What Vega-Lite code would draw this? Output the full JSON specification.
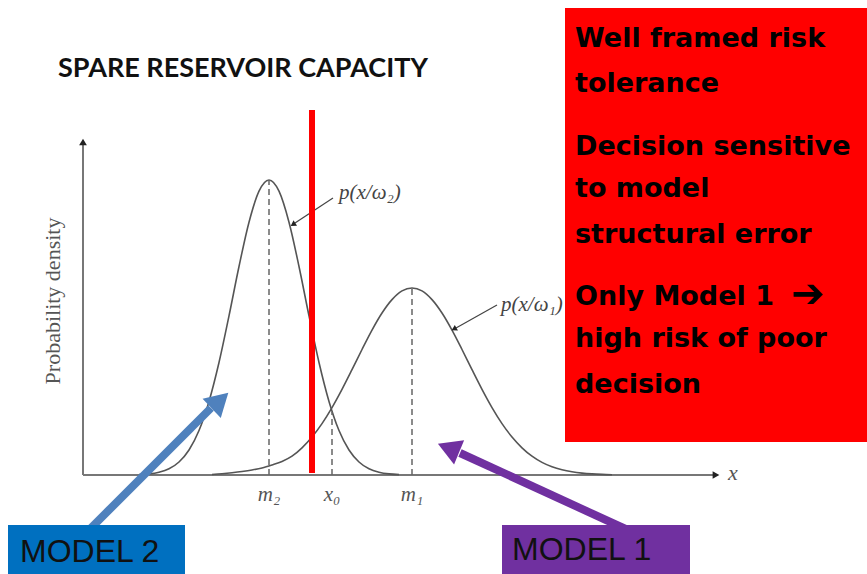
{
  "$schema": "https://vega.github.io/schema/vega-lite/v6.json",
  "width": 867,
  "height": 574,
  "autosize": {"type": "fit", "contains": "padding"},
  "padding": 0,
  "background": "white",
  "config": {"view": {"stroke": null}},
  "datasets": {
    "curves": [
      {"model": "Model 2", "x": 56, "density": 0.4},
      {"model": "Model 2", "x": 66, "density": 1.1},
      {"model": "Model 2", "x": 76, "density": 2.8},
      {"model": "Model 2", "x": 86, "density": 6.2},
      {"model": "Model 2", "x": 96, "density": 13.0},
      {"model": "Model 2", "x": 106, "density": 25.0},
      {"model": "Model 2", "x": 116, "density": 44.5},
      {"model": "Model 2", "x": 126, "density": 73.6},
      {"model": "Model 2", "x": 136, "density": 112.5},
      {"model": "Model 2", "x": 146, "density": 159.1},
      {"model": "Model 2", "x": 156, "density": 208.5},
      {"model": "Model 2", "x": 166, "density": 252.8},
      {"model": "Model 2", "x": 176, "density": 283.8},
      {"model": "Model 2", "x": 186, "density": 295},
      {"model": "Model 2", "x": 196, "density": 283.8},
      {"model": "Model 2", "x": 206, "density": 252.8},
      {"model": "Model 2", "x": 216, "density": 208.5},
      {"model": "Model 2", "x": 226, "density": 159.1},
      {"model": "Model 2", "x": 236, "density": 112.5},
      {"model": "Model 2", "x": 246, "density": 73.6},
      {"model": "Model 2", "x": 256, "density": 44.5},
      {"model": "Model 2", "x": 266, "density": 25.0},
      {"model": "Model 2", "x": 276, "density": 13.0},
      {"model": "Model 2", "x": 286, "density": 6.2},
      {"model": "Model 2", "x": 296, "density": 2.8},
      {"model": "Model 2", "x": 306, "density": 1.1},
      {"model": "Model 2", "x": 316, "density": 0.4},
      {"model": "Model 1", "x": 129, "density": 0.5},
      {"model": "Model 1", "x": 139, "density": 1.3},
      {"model": "Model 1", "x": 149, "density": 2.3},
      {"model": "Model 1", "x": 159, "density": 3.5},
      {"model": "Model 1", "x": 169, "density": 5.0},
      {"model": "Model 1", "x": 179, "density": 7.0},
      {"model": "Model 1", "x": 189, "density": 10.0},
      {"model": "Model 1", "x": 199, "density": 13.5},
      {"model": "Model 1", "x": 209, "density": 18.8},
      {"model": "Model 1", "x": 219, "density": 27.2},
      {"model": "Model 1", "x": 229, "density": 38.0},
      {"model": "Model 1", "x": 239, "density": 51.4},
      {"model": "Model 1", "x": 249, "density": 67.4},
      {"model": "Model 1", "x": 259, "density": 85.6},
      {"model": "Model 1", "x": 269, "density": 105.3},
      {"model": "Model 1", "x": 279, "density": 125.5},
      {"model": "Model 1", "x": 289, "density": 144.9},
      {"model": "Model 1", "x": 299, "density": 162.0},
      {"model": "Model 1", "x": 309, "density": 175.4},
      {"model": "Model 1", "x": 319, "density": 184.1},
      {"model": "Model 1", "x": 329, "density": 187},
      {"model": "Model 1", "x": 339, "density": 184.1},
      {"model": "Model 1", "x": 349, "density": 175.4},
      {"model": "Model 1", "x": 359, "density": 162.0},
      {"model": "Model 1", "x": 369, "density": 144.9},
      {"model": "Model 1", "x": 379, "density": 125.5},
      {"model": "Model 1", "x": 389, "density": 105.3},
      {"model": "Model 1", "x": 399, "density": 85.6},
      {"model": "Model 1", "x": 409, "density": 67.4},
      {"model": "Model 1", "x": 419, "density": 51.4},
      {"model": "Model 1", "x": 429, "density": 38.0},
      {"model": "Model 1", "x": 439, "density": 27.2},
      {"model": "Model 1", "x": 449, "density": 18.8},
      {"model": "Model 1", "x": 459, "density": 12.6},
      {"model": "Model 1", "x": 469, "density": 8.2},
      {"model": "Model 1", "x": 479, "density": 5.2},
      {"model": "Model 1", "x": 489, "density": 3.2},
      {"model": "Model 1", "x": 499, "density": 1.9},
      {"model": "Model 1", "x": 509, "density": 1.1},
      {"model": "Model 1", "x": 519, "density": 0.6},
      {"model": "Model 1", "x": 529, "density": 0.3}
    ]
  },
  "encoding": {
    "x": {"field": "x", "type": "quantitative", "scale": {"domain": [-83, 784], "nice": false, "zero": false}, "axis": null},
    "y": {"field": "y", "type": "quantitative", "scale": {"domain": [-99, 475], "nice": false, "zero": false}, "axis": null}
  },
  "layer": [
    {
      "data": {"values": [
        {"x": 0, "y": 0, "x2": 0, "y2": 334},
        {"x": 0, "y": 0, "x2": 634, "y2": 0}
      ]},
      "mark": {"type": "rule", "color": "#777777", "strokeWidth": 2},
      "encoding": {"x2": {"field": "x2"}, "y2": {"field": "y2"}}
    },
    {
      "data": {"values": [
        {"x": 0, "y": 333, "dir": 0},
        {"x": 633, "y": 0, "dir": 90}
      ]},
      "mark": {"type": "point", "shape": "triangle-up", "filled": true, "color": "#222222", "opacity": 1, "size": 60},
      "encoding": {"angle": {"field": "dir", "type": "quantitative", "scale": {"domain": [0, 360], "range": [0, 360]}}}
    },
    {
      "data": {"name": "curves"},
      "mark": {"type": "line", "color": "#555555", "strokeWidth": 1.6, "interpolate": "monotone"},
      "encoding": {
        "y": {"field": "density", "type": "quantitative"},
        "detail": {"field": "model"}
      }
    },
    {
      "data": {"values": [
        {"x": 186, "y": 0, "y2": 295},
        {"x": 249, "y": 0, "y2": 63},
        {"x": 329, "y": 0, "y2": 187}
      ]},
      "mark": {"type": "rule", "color": "#666666", "strokeWidth": 1.5, "strokeDash": [6, 4]},
      "encoding": {"y2": {"field": "y2"}}
    },
    {
      "data": {"values": [
        {"x": 186, "y": -20, "label": "m₂"},
        {"x": 249, "y": -20, "label": "x₀"},
        {"x": 329, "y": -20, "label": "m₁"}
      ]},
      "mark": {"type": "text", "font": "Liberation Serif", "fontStyle": "italic", "fontSize": 21, "color": "#555555", "align": "center", "baseline": "middle"},
      "encoding": {"text": {"field": "label"}}
    },
    {
      "data": {"values": [{"x": 645, "y": 2, "label": "x"}]},
      "mark": {"type": "text", "font": "Liberation Serif", "fontStyle": "italic", "fontSize": 22, "color": "#555555", "align": "left", "baseline": "middle"},
      "encoding": {"text": {"field": "label"}}
    },
    {
      "data": {"values": [{"x": -30, "y": 174, "label": "Probability density"}]},
      "mark": {"type": "text", "font": "Liberation Serif", "fontSize": 22, "color": "#555555", "align": "center", "baseline": "middle", "angle": 270},
      "encoding": {"text": {"field": "label"}}
    },
    {
      "data": {"values": [
        {"x": 256, "y": 282, "label": "p(x/ω₂)"},
        {"x": 418, "y": 170, "label": "p(x/ω₁)"}
      ]},
      "mark": {"type": "text", "font": "Liberation Serif", "fontStyle": "italic", "fontSize": 21, "color": "#444444", "align": "left", "baseline": "middle"},
      "encoding": {"text": {"field": "label"}}
    },
    {
      "data": {"values": [
        {"x": 250, "y": 277, "x2": 212, "y2": 252},
        {"x": 414, "y": 170, "x2": 373, "y2": 147}
      ]},
      "mark": {"type": "rule", "color": "#444444", "strokeWidth": 1.2},
      "encoding": {"x2": {"field": "x2"}, "y2": {"field": "y2"}}
    },
    {
      "data": {"values": [
        {"x": 210, "y": 250.5, "dir": 236.6},
        {"x": 371, "y": 146, "dir": 240.4}
      ]},
      "mark": {"type": "point", "shape": "triangle-up", "filled": true, "color": "#222222", "opacity": 1, "size": 40},
      "encoding": {"angle": {"field": "dir", "type": "quantitative", "scale": {"domain": [0, 360], "range": [0, 360]}}}
    },
    {
      "data": {"values": [{"x": 229, "y": 2, "y2": 365}]},
      "mark": {"type": "rule", "color": "#FF0000", "strokeWidth": 6},
      "encoding": {"y2": {"field": "y2"}}
    },
    {
      "data": {"values": [{"x": -25, "y": 406, "label": "SPARE RESERVOIR CAPACITY"}]},
      "mark": {"type": "text", "font": "Lato", "fontWeight": "bold", "fontSize": 27, "color": "#111111", "align": "left", "baseline": "middle"},
      "encoding": {"text": {"field": "label"}}
    },
    {
      "data": {"values": [
        {"x": 5, "y": -56, "x2": 128, "y2": 67, "arrow": "model2"},
        {"x": 547, "y": -56, "x2": 377, "y2": 22, "arrow": "model1"}
      ]},
      "mark": {"type": "rule", "strokeWidth": 8},
      "encoding": {
        "x2": {"field": "x2"},
        "y2": {"field": "y2"},
        "color": {"field": "arrow", "type": "nominal", "scale": {"domain": ["model2", "model1"], "range": ["#4F81BD", "#7030A0"]}, "legend": null}
      }
    },
    {
      "data": {"values": [
        {"x": 137, "y": 74.5, "dir": 46.6, "arrow": "model2"},
        {"x": 365.5, "y": 27, "dir": 292.4, "arrow": "model1"}
      ]},
      "mark": {"type": "point", "shape": "triangle-up", "filled": true, "opacity": 1, "size": 700},
      "encoding": {
        "angle": {"field": "dir", "type": "quantitative", "scale": {"domain": [0, 360], "range": [0, 360]}},
        "color": {"field": "arrow", "type": "nominal", "scale": {"domain": ["model2", "model1"], "range": ["#4F81BD", "#7030A0"]}, "legend": null}
      }
    },
    {
      "data": {"values": [
        {"x": 482, "y": 467, "x2": 784, "y2": 33, "box": "risk"},
        {"x": -75, "y": -50, "x2": 102, "y2": -99, "box": "model2"},
        {"x": 419, "y": -50, "x2": 607, "y2": -99, "box": "model1"}
      ]},
      "mark": {"type": "rect"},
      "encoding": {
        "x2": {"field": "x2"},
        "y2": {"field": "y2"},
        "fill": {"field": "box", "type": "nominal", "scale": {"domain": ["risk", "model2", "model1"], "range": ["#FF0000", "#0070C0", "#7030A0"]}, "legend": null}
      }
    },
    {
      "data": {"values": [
        {"x": 492, "y": 428, "label": "Well framed risk"},
        {"x": 492, "y": 383, "label": "tolerance"},
        {"x": 492, "y": 320, "label": "Decision sensitive"},
        {"x": 492, "y": 278, "label": "to model"},
        {"x": 492, "y": 232, "label": "structural error"},
        {"x": 492, "y": 170, "label": "Only Model 1"},
        {"x": 492, "y": 128, "label": "high risk of poor"},
        {"x": 492, "y": 82, "label": "decision"}
      ]},
      "mark": {"type": "text", "font": "DejaVu Sans", "fontWeight": "bold", "fontSize": 27, "color": "#000000", "align": "left", "baseline": "alphabetic"},
      "encoding": {"text": {"field": "label"}}
    },
    {
      "data": {"values": [{"x": 708, "y": 180, "label": "➔"}]},
      "mark": {"type": "text", "font": "DejaVu Sans", "fontWeight": "bold", "fontSize": 40, "color": "#000000", "align": "left", "baseline": "middle"},
      "encoding": {"text": {"field": "label"}}
    },
    {
      "data": {"values": [
        {"x": -63, "y": -87, "label": "MODEL 2"},
        {"x": 429, "y": -85, "label": "MODEL 1"}
      ]},
      "mark": {"type": "text", "font": "Liberation Sans", "fontSize": 32, "color": "#111111", "align": "left", "baseline": "alphabetic"},
      "encoding": {"text": {"field": "label"}}
    }
  ]
}
